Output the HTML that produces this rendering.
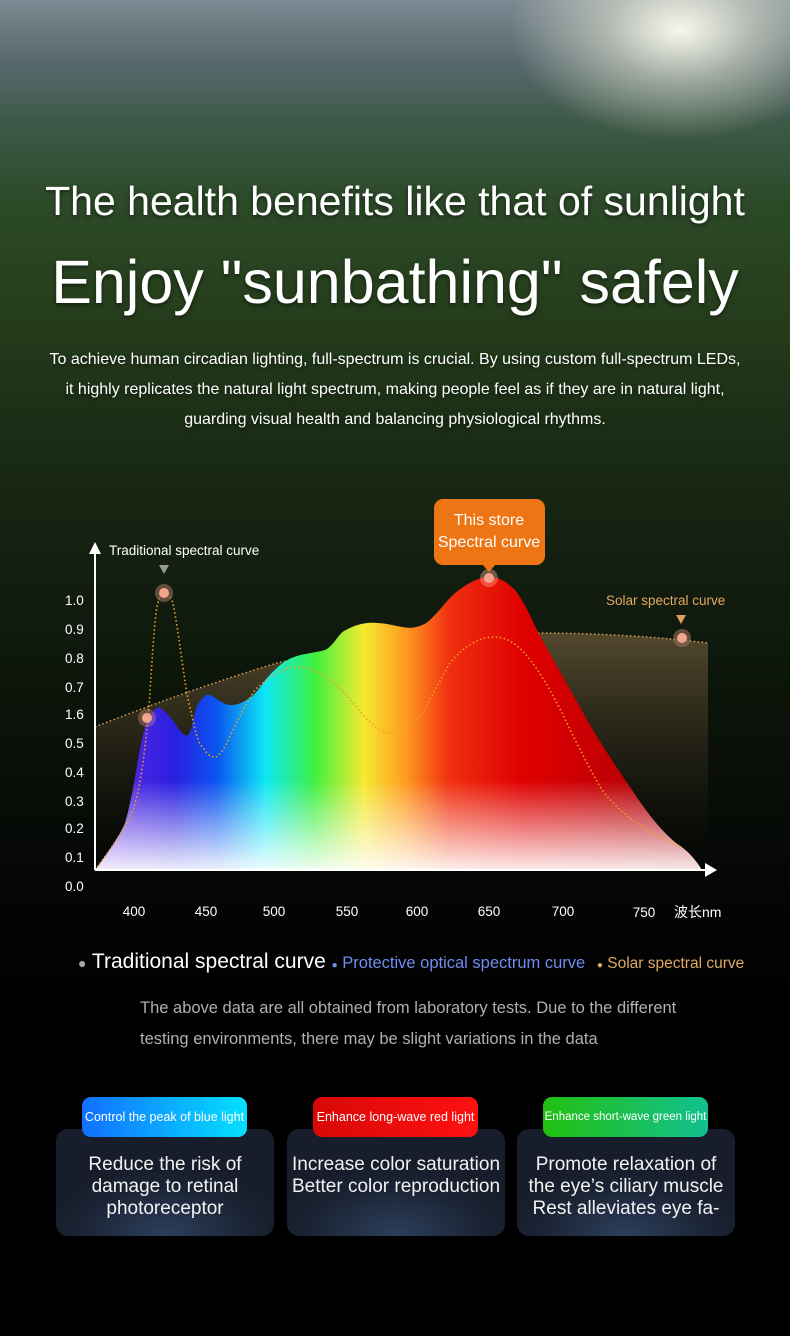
<!DOCTYPE html>
<html><head><meta charset="utf-8"><style>
*{margin:0;padding:0;box-sizing:border-box}
body{width:790px;height:1336px;overflow:hidden;background:#000;font-family:"Liberation Sans",sans-serif;color:#fff;position:relative}
.bg{position:absolute;left:0;top:0;width:790px;height:1000px;
background:
radial-gradient(ellipse 170px 110px at 680px 30px,rgba(255,255,240,.95),rgba(240,240,220,.5) 45%,rgba(0,0,0,0) 100%),
linear-gradient(180deg,#7d8a93 0px,#58696f 60px,#3f5a4a 120px,#2c4a28 200px,#263f1d 300px,#1c2f16 420px,#131f10 560px,#0c140a 700px,#050805 860px,#000 1000px);}
.t{position:absolute;left:0;width:790px;text-align:center;text-shadow:0 2px 4px rgba(0,0,0,.5)}
.card{position:absolute;top:1129px;width:218px;height:107px;border-radius:12px;background:radial-gradient(ellipse 120px 70px at 50% 100%,#2c3f5c,#1b2435 70%,#171d2a);text-align:center;font-size:19px;line-height:22px;padding-top:25px;color:#f2f2f2}
.tag{position:absolute;top:1097px;height:40px;border-radius:9px;font-size:12.5px;line-height:40px;text-align:center;color:#fff}
</style></head><body>
<div class="bg"></div>
<div class="t" style="top:178px;font-size:41px;">The health benefits like that of sunlight</div>
<div class="t" style="top:247px;font-size:61px;">Enjoy "sunbathing" safely</div>
<div class="t" style="top:345px;font-size:16px;line-height:30px;">To achieve human circadian lighting, full-spectrum is crucial. By using custom full-spectrum LEDs,<br>it highly replicates the natural light spectrum, making people feel as if they are in natural light,<br>guarding visual health and balancing physiological rhythms.</div>

<svg width="790" height="940" style="position:absolute;left:0;top:0">
<defs>
<linearGradient id="sp" x1="95" x2="705" y1="0" y2="0" gradientUnits="userSpaceOnUse">
<stop offset="0" stop-color="#6a2be0"/><stop offset=".13" stop-color="#2a1fe0"/><stop offset=".2" stop-color="#0a55f0"/>
<stop offset=".28" stop-color="#0ee8f5"/><stop offset=".36" stop-color="#3ef040"/><stop offset=".44" stop-color="#f5ea30"/>
<stop offset=".51" stop-color="#ff9a20"/><stop offset=".58" stop-color="#f03010"/><stop offset=".7" stop-color="#e00000"/><stop offset="1" stop-color="#a00008"/></linearGradient>
<linearGradient id="wh" x1="0" x2="0" y1="780" y2="870" gradientUnits="userSpaceOnUse">
<stop offset="0" stop-color="#fff" stop-opacity="0"/><stop offset="1" stop-color="#fff" stop-opacity=".92"/></linearGradient>
<linearGradient id="so" x1="0" x2="0" y1="630" y2="870" gradientUnits="userSpaceOnUse">
<stop offset="0" stop-color="#6b5a3a" stop-opacity=".75"/><stop offset=".5" stop-color="#3a3020" stop-opacity=".5"/><stop offset="1" stop-color="#000" stop-opacity=".2"/></linearGradient>
</defs>
<path d="M95,727 C150,705 220,680 277,663 C380,640 460,636 537,633 C600,633 660,637 708,643 L708,870 L95,870Z" fill="url(#so)"/>
<path d="M95,727 C150,705 220,680 277,663 C380,640 460,636 537,633 C600,633 660,637 708,643" fill="none" stroke="#d0a050" stroke-width="1.5" stroke-dasharray="1.5 2.5"/>
<path d="M95,870 C110,850 120,835 125,823 C135,790 140,735 147,723 C152,712 156,706 160,708 C167,712 172,720 175,723 C181,733 185,737 188,735 C193,730 194,708 199,703 C204,695 207,694 210,695 C220,700 224,706 233,705 C242,704 246,700 251,697 C258,692 263,682 268,677 C277,667 285,660 294,657 C305,653 315,653 325,650 C335,645 338,633 346,630 C355,625 365,622 377,623 C395,624 405,630 416,627 C425,625 428,622 433,617 C442,608 450,596 459,590 C470,582 480,577 489,577 C500,577 508,583 515,590 C523,600 530,615 537,630 C550,655 565,680 580,707 C598,740 615,765 632,790 C645,810 660,830 676,843 C690,852 697,862 702,870Z" fill="url(#sp)"/>
<path d="M95,870 C110,850 120,835 125,823 C135,790 140,735 147,723 C152,712 156,706 160,708 C167,712 172,720 175,723 C181,733 185,737 188,735 C193,730 194,708 199,703 C204,695 207,694 210,695 C220,700 224,706 233,705 C242,704 246,700 251,697 C258,692 263,682 268,677 C277,667 285,660 294,657 C305,653 315,653 325,650 C335,645 338,633 346,630 C355,625 365,622 377,623 C395,624 405,630 416,627 C425,625 428,622 433,617 C442,608 450,596 459,590 C470,582 480,577 489,577 C500,577 508,583 515,590 C523,600 530,615 537,630 C550,655 565,680 580,707 C598,740 615,765 632,790 C645,810 660,830 676,843 C690,852 697,862 702,870Z" fill="url(#wh)"/>
<path d="M95,870 C110,850 128,825 134,807 C142,780 146,740 149,707 C152,660 155,610 158,603 C160,595 162,593 164,593 C168,593 171,598 173,603 C180,640 185,690 190,707 C195,730 198,745 203,747 C208,757 213,757 216,757 C224,752 228,740 233,730 C242,712 248,700 255,690 C270,675 285,667 298,667 C315,667 330,680 342,690 C360,710 375,733 390,733 C405,733 412,725 420,717 C430,700 440,680 450,663 C465,645 480,637 494,637 C510,637 520,648 528,657 C540,672 550,690 559,707 C575,740 590,770 602,790 C625,820 655,835 680,847" fill="none" stroke="#f0a020" stroke-width="1.6" stroke-dasharray="1.5 2.5"/>
<line x1="95" y1="870" x2="95" y2="552" stroke="#fff" stroke-width="2"/>
<polygon points="95,542 89,554 101,554" fill="#fff"/>
<line x1="95" y1="870" x2="706" y2="870" stroke="#fff" stroke-width="2"/>
<polygon points="717,870 705,863 705,877" fill="#fff"/>
<g fill="#f2a48f">
<circle cx="147" cy="718" r="9" fill="rgba(220,150,130,.35)"/><circle cx="147" cy="718" r="5"/>
<circle cx="164" cy="593" r="9" fill="rgba(150,110,90,.6)"/><circle cx="164" cy="593" r="5"/>
<circle cx="489" cy="578" r="9" fill="rgba(255,170,150,.4)"/><circle cx="489" cy="578" r="5"/>
<circle cx="682" cy="638" r="9" fill="rgba(150,110,90,.6)"/><circle cx="682" cy="638" r="5"/>
</g>
<polygon points="159,565 169,565 164,574" fill="#999"/>
<polygon points="676,615 686,615 681,624" fill="#d9a060"/>
<rect x="434" y="499" width="111" height="66" rx="9" fill="#ee7514"/>
<polygon points="482,564 496,564 489,572" fill="#ee7514"/>
<g font-family="Liberation Sans,sans-serif" fill="#fff">
<text x="489" y="525" font-size="16" text-anchor="middle">This store</text>
<text x="489" y="547" font-size="16" text-anchor="middle">Spectral curve</text>
<text x="109" y="555" font-size="13.5">Traditional spectral curve</text>
<text x="606" y="605" font-size="13.5" fill="#e0a860">Solar spectral curve</text>
<g font-size="13.5" text-anchor="start">
<text x="65" y="605">1.0</text><text x="65" y="634">0.9</text><text x="65" y="663">0.8</text><text x="65" y="692">0.7</text><text x="65" y="719">1.6</text><text x="65" y="748">0.5</text><text x="65" y="777">0.4</text><text x="65" y="806">0.3</text><text x="65" y="833">0.2</text><text x="65" y="862">0.1</text><text x="65" y="891">0.0</text>
</g>
<g font-size="13.5" text-anchor="middle">
<text x="134" y="916">400</text><text x="206" y="916">450</text><text x="274" y="916">500</text><text x="347" y="916">550</text><text x="417" y="916">600</text><text x="489" y="916">650</text><text x="563" y="916">700</text><text x="644" y="917">750</text>
</g>
<text x="674" y="917" font-size="14" font-family="Liberation Sans,Noto Sans CJK SC,sans-serif">波长nm</text>
</g>
</svg>

<div style="position:absolute;top:950px;left:78px;font-size:21px;white-space:nowrap;line-height:24px">
<span style="color:#aaa;font-size:14px">●</span> Traditional spectral curve <span style="color:#6f8cf0;font-size:16.5px"><span style="font-size:10px">●</span> Protective optical spectrum curve</span> &nbsp;<span style="color:#e0a860;font-size:15.5px"><span style="font-size:10px">●</span> Solar spectral curve</span></div>
<div style="position:absolute;top:993px;left:140px;font-size:16.5px;line-height:31px;color:#b0b0b0;white-space:nowrap">The above data are all obtained from laboratory tests. Due to the different<br>testing environments, there may be slight variations in the data</div>

<div class="card" style="left:56px">Reduce the risk of<br>damage to retinal<br>photoreceptor</div>
<div class="card" style="left:287px">Increase color saturation<br>Better color reproduction</div>
<div class="card" style="left:517px">Promote relaxation of<br>the eye’s ciliary muscle<br>Rest alleviates eye fa-</div>
<div class="tag" style="left:82px;width:165px;background:linear-gradient(90deg,#1170ff,#05e0ff)">Control the peak of blue light</div>
<div class="tag" style="left:313px;width:165px;background:linear-gradient(90deg,#d80808,#ff1010)">Enhance long-wave red light</div>
<div class="tag" style="left:543px;width:165px;background:linear-gradient(90deg,#22c010,#12c090);font-size:11.5px">Enhance short-wave green light</div>
</body></html>
